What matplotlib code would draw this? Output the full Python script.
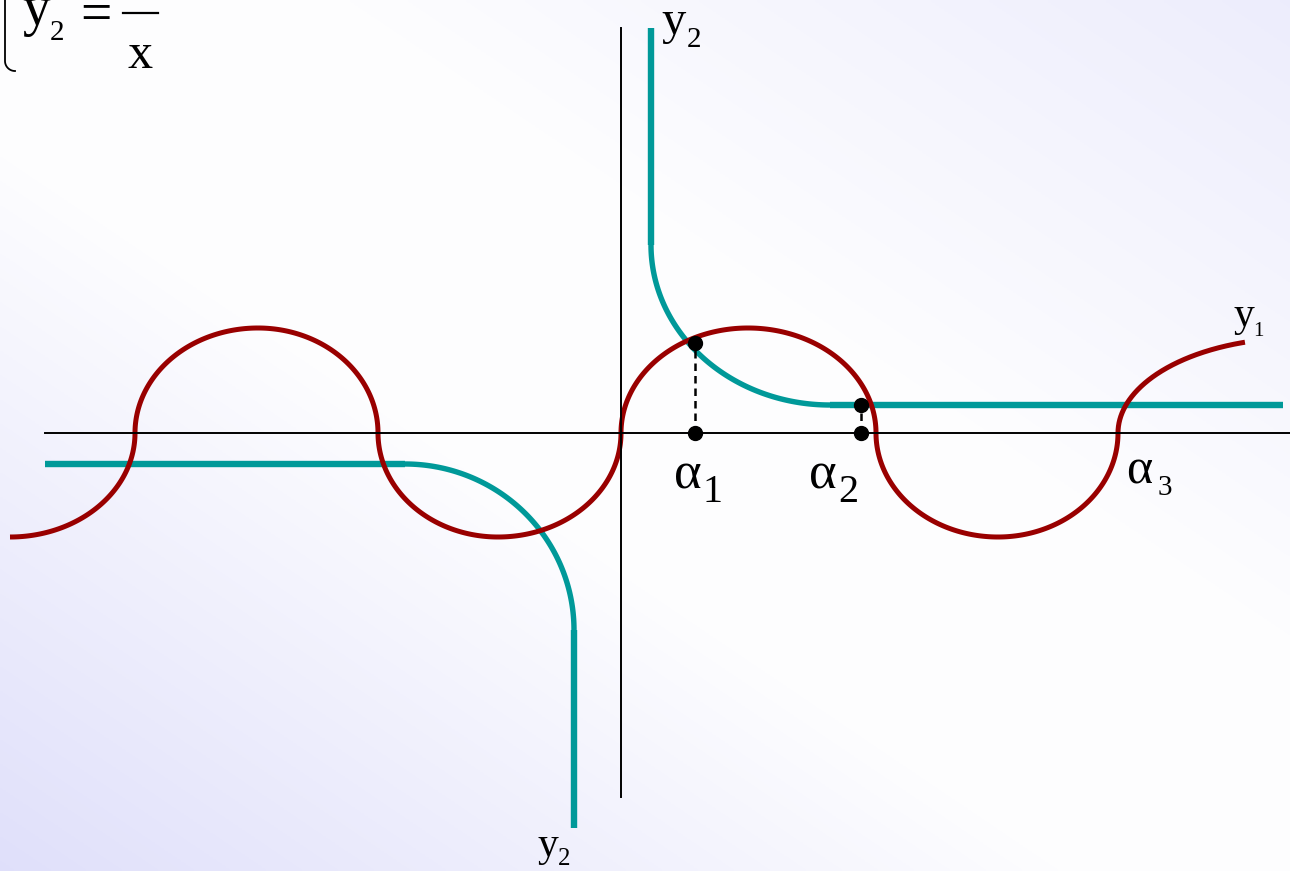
import numpy as np
import matplotlib.pyplot as plt

# y1: knots alternate between extrema and zero crossings
red_x = [-6.11, -4.86, -3.63, -2.43, -1.23, 0.00, 1.27, 2.55, 3.77, 4.97]
red_y = [-1.04, 0.00, 1.05, 0.00, -1.04, 0.00, 1.05, 0.00, -1.04, 0.00]
# last piece of y1 heads for a further top and is cut short
red_tail_top = (6.77, 0.95)
red_end_x = 6.24

# y2 = 1/x, drawn as line - curve - line on each branch
teal_upper_x = [0.30, 0.30, 2.09, 6.62]
teal_upper_y = [4.05, 1.88, 0.28, 0.28]
teal_lower_x = [-5.76, -2.16, -0.47, -0.47]
teal_lower_y = [-0.31, -0.31, -1.97, -3.95]

# roots alpha1, alpha2 and the heights marked above them
alpha_x = [0.74, 2.40]
alpha_y = [0.90, 0.28]

x_axis = (-5.76, 6.69)
y_axis = (-3.64, 4.05)

RED = '#990000'
TEAL = '#009999'
SERIF = 'Liberation Serif'


def arc(x0, y0, x1, y1, vertical_first, n=120):
    # quarter ellipse between two points, tangent vertical at one end and horizontal at the other
    t = np.linspace(0, np.pi / 2, n)
    if vertical_first:
        return x1 - (x1 - x0) * np.cos(t), y0 + (y1 - y0) * np.sin(t)
    return x0 + (x1 - x0) * np.sin(t), y1 + (y0 - y1) * np.cos(t)


fig = plt.figure(figsize=(12.9, 8.71), dpi=100)
ax = fig.add_axes([0, 0, 1, 1])
xmin, xmax, ymin, ymax = -6.21, 6.69, -4.38, 4.33
ax.set_xlim(xmin, xmax)
ax.set_ylim(ymin, ymax)
ax.axis('off')

# soft lavender diagonal background
gx, gy = np.meshgrid(np.linspace(0, 1, 400), np.linspace(0, 1, 300))
s = (gx + gy) / 2
w = np.interp(s, [0.0, 0.42, 0.62, 1.0], [0.95, 0.04, 0.04, 0.55])
lav = np.array([222, 222, 250]) / 255.0
bg = 1 - w[..., None] * (1 - lav)
ax.imshow(bg, extent=(xmin, xmax, ymin, ymax), origin='lower', aspect='auto', zorder=0)

# coordinate axes
ax.plot(x_axis, [0, 0], color='black', lw=1.4, zorder=5)
ax.plot([0, 0], y_axis, color='black', lw=1.4, zorder=5)

# y2 branches
for bx, by in [(teal_upper_x, teal_upper_y), (teal_lower_x, teal_lower_y)]:
    ax.plot(bx[0:2], by[0:2], color=TEAL, lw=4.6, solid_capstyle='butt', zorder=2)
    ax.plot(bx[2:4], by[2:4], color=TEAL, lw=4.6, solid_capstyle='butt', zorder=2)
    cx, cy = arc(bx[1], by[1], bx[2], by[2], bx[0] == bx[1])
    ax.plot(cx, cy, color=TEAL, lw=3.9, solid_capstyle='butt', zorder=2)

# y1 pieces
for i in range(len(red_x) - 1):
    cx, cy = arc(red_x[i], red_y[i], red_x[i + 1], red_y[i + 1], red_y[i] == 0)
    ax.plot(cx, cy, color=RED, lw=3.6, solid_capstyle='butt', zorder=3)
cx, cy = arc(red_x[-1], red_y[-1], red_tail_top[0], red_tail_top[1], True, n=400)
keep = cx <= red_end_x
ax.plot(cx[keep], cy[keep], color=RED, lw=3.6, solid_capstyle='butt', zorder=3)

# roots
for xa, ya in zip(alpha_x, alpha_y):
    ax.plot([xa, xa], [0, ya], color='black', lw=1.8, ls=(0, (3, 2)), zorder=6)
    ax.plot([xa, xa], [0, ya], 'o', color='black', ms=10, zorder=7)


def label(x, y, main, size, sx, sy, sub, subsize):
    ax.text(x, y, main, fontsize=size, family=SERIF, ha='left', va='baseline', zorder=8)
    ax.text(sx, sy, sub, fontsize=subsize, family=SERIF, ha='left', va='baseline', zorder=8)


label(0.40, 3.99, 'y', 35, 0.66, 3.86, '2', 21)
label(-0.84, -4.23, 'y', 30, -0.63, -4.32, '2', 18)
label(6.12, 1.07, 'y', 30, 6.32, 0.97, '1', 15)
label(0.53, -0.55, 'α', 38, 0.81, -0.69, '1', 29)
label(1.88, -0.55, 'α', 38, 2.17, -0.69, '2', 29)
label(5.05, -0.50, 'α', 36, 5.37, -0.62, '3', 21)

# formula in the top left corner: y2 = 1/x
label(-5.99, 4.08, 'y', 40, -5.71, 3.93, '2', 21)
ax.text(-5.41, 4.02, '=', fontsize=40, family=SERIF, ha='left', va='baseline')
ax.plot([-4.98, -4.63], [4.20, 4.20], color='black', lw=1.6)
ax.text(-4.93, 3.65, 'x', fontsize=36, family=SERIF, ha='left', va='baseline')
t = np.linspace(np.pi, 1.5 * np.pi, 30)
bx = np.concatenate([[-6.16], -6.06 + 0.10 * np.cos(t)])
by = np.concatenate([[4.40], 3.72 + 0.10 * np.sin(t)])
ax.plot(bx, by, color='black', lw=1.3)

fig.savefig('out.png', dpi=100)
